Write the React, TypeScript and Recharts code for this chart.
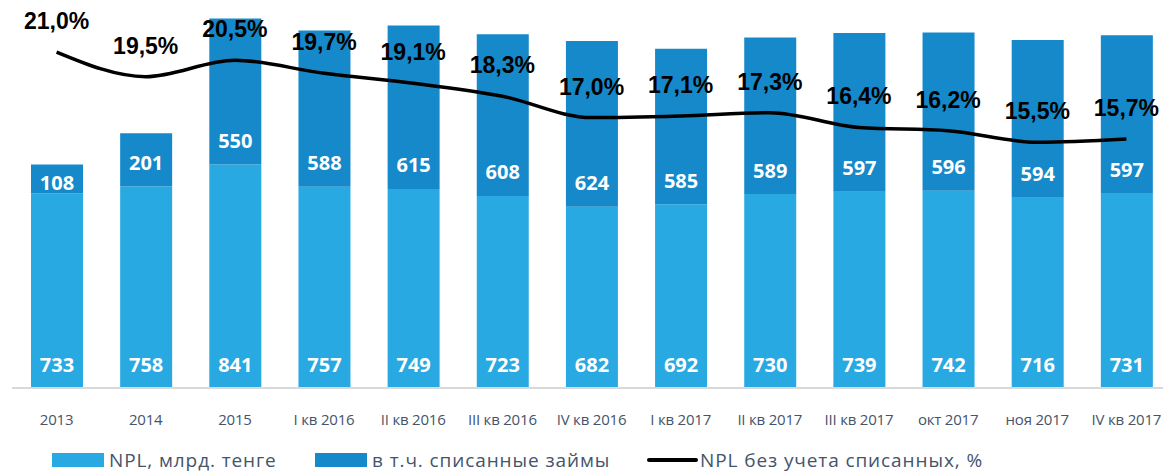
import { ComposedChart, Bar, Line, XAxis, YAxis, LabelList, Legend } from 'recharts';

const categories = [
  '2013', '2014', '2015', 'I кв 2016', 'II кв 2016', 'III кв 2016', 'IV кв 2016',
  'I кв 2017', 'II кв 2017', 'III кв 2017', 'окт 2017', 'ноя 2017', 'IV кв 2017',
];
const nplValues = [733, 758, 841, 757, 749, 723, 682, 692, 730, 739, 742, 716, 731];
const writtenOffValues = [108, 201, 550, 588, 615, 608, 624, 585, 589, 597, 596, 594, 597];
const nplNetPct = [21.0, 19.5, 20.5, 19.7, 19.1, 18.3, 17.0, 17.1, 17.3, 16.4, 16.2, 15.5, 15.7];

const LIGHT = '#29a9e1';
const DARK = '#1589ca';
const TEXT = '#44546a';

const data = categories.map((name, i) => ({
  name,
  npl: nplValues[i],
  writtenOff: writtenOffValues[i],
  pct: nplNetPct[i],
}));

// label sits near the base of the segment, pushed down when the segment is short
function barLabel(props: any) {
  const { x, y, width, height, value } = props;
  const bottom = y + height;
  const cy = Math.max(bottom - 24, y + 18);
  return (
    <text
      x={x + width / 2}
      y={cy}
      textAnchor="middle"
      dominantBaseline="central"
      fill="#fff"
      fontFamily="'Open Sans', sans-serif"
      fontWeight={700}
      fontSize={20}
    >
      {value}
    </text>
  );
}

function pctLabel(props: any) {
  const { x, y, value } = props;
  return (
    <text
      x={x}
      y={y - 31}
      textAnchor="middle"
      dominantBaseline="central"
      fill="#000"
      fontFamily="'Liberation Sans', Arial, sans-serif"
      fontWeight={700}
      fontSize={23}
    >
      {value.toFixed(1).replace('.', ',') + '%'}
    </text>
  );
}

function renderLegend() {
  const text = {
    position: 'absolute' as const,
    top: 0,
    lineHeight: '30px',
    fontFamily: "'Open Sans', sans-serif",
    fontSize: 19,
    letterSpacing: '0.9px',
    color: TEXT,
    whiteSpace: 'nowrap' as const,
  };
  return (
    <div style={{ position: 'relative', width: 1163, height: 30 }}>
      <div style={{ position: 'absolute', left: 44, top: 8, width: 52, height: 14, background: LIGHT }} />
      <span style={{ ...text, left: 101 }}>NPL, млрд. тенге</span>
      <div style={{ position: 'absolute', left: 307, top: 8, width: 52, height: 14, background: DARK }} />
      <span style={{ ...text, left: 364 }}>в т.ч. списанные займы</span>
      <div style={{ position: 'absolute', left: 639, top: 13, width: 51, height: 4, background: '#000', borderRadius: 2 }} />
      <span style={{ ...text, left: 692 }}>NPL без учета списанных, %</span>
    </div>
  );
}

export default function App() {
  return (
    <div style={{ width: 1163, height: 464 }}>
      <ComposedChart
        width={1163}
        height={464}
        data={data}
        margin={{ top: 8, right: 0, bottom: 4, left: 4 }}
      >
        <XAxis
          dataKey="name"
          xAxisId="x"
          height={50}
          tickLine={false}
          tickMargin={20}
          axisLine={{ stroke: '#d9d9d9', strokeWidth: 2 }}
          tick={{ fill: TEXT, fontSize: 15, letterSpacing: '-0.2px', fontFamily: "'Open Sans', sans-serif" }}
          interval={0}
        />
        <YAxis yAxisId="left" hide domain={[0, 1400]} />
        <YAxis yAxisId="right" orientation="right" hide domain={[0.5, 23.2]} />
        <Legend
          content={renderLegend}
          wrapperStyle={{ top: 437, left: 0, height: 30, width: 1163 }}
        />
        <Bar
          xAxisId="x"
          yAxisId="left"
          dataKey="npl"
          stackId="s"
          fill={LIGHT}
          barSize={52}
          isAnimationActive={false}
          name="NPL, млрд. тенге"
        >
          <LabelList dataKey="npl" content={barLabel} />
        </Bar>
        <Bar
          xAxisId="x"
          yAxisId="left"
          dataKey="writtenOff"
          stackId="s"
          fill={DARK}
          barSize={52}
          isAnimationActive={false}
          name="в т.ч. списанные займы"
        >
          <LabelList dataKey="writtenOff" content={barLabel} />
        </Bar>
        <Line
          xAxisId="x"
          yAxisId="right"
          type="monotone"
          dataKey="pct"
          stroke="#000"
          strokeWidth={3.5}
          dot={false}
          isAnimationActive={false}
          name="NPL без учета списанных, %"
        >
          <LabelList dataKey="pct" content={pctLabel} />
        </Line>
      </ComposedChart>
    </div>
  );
}
